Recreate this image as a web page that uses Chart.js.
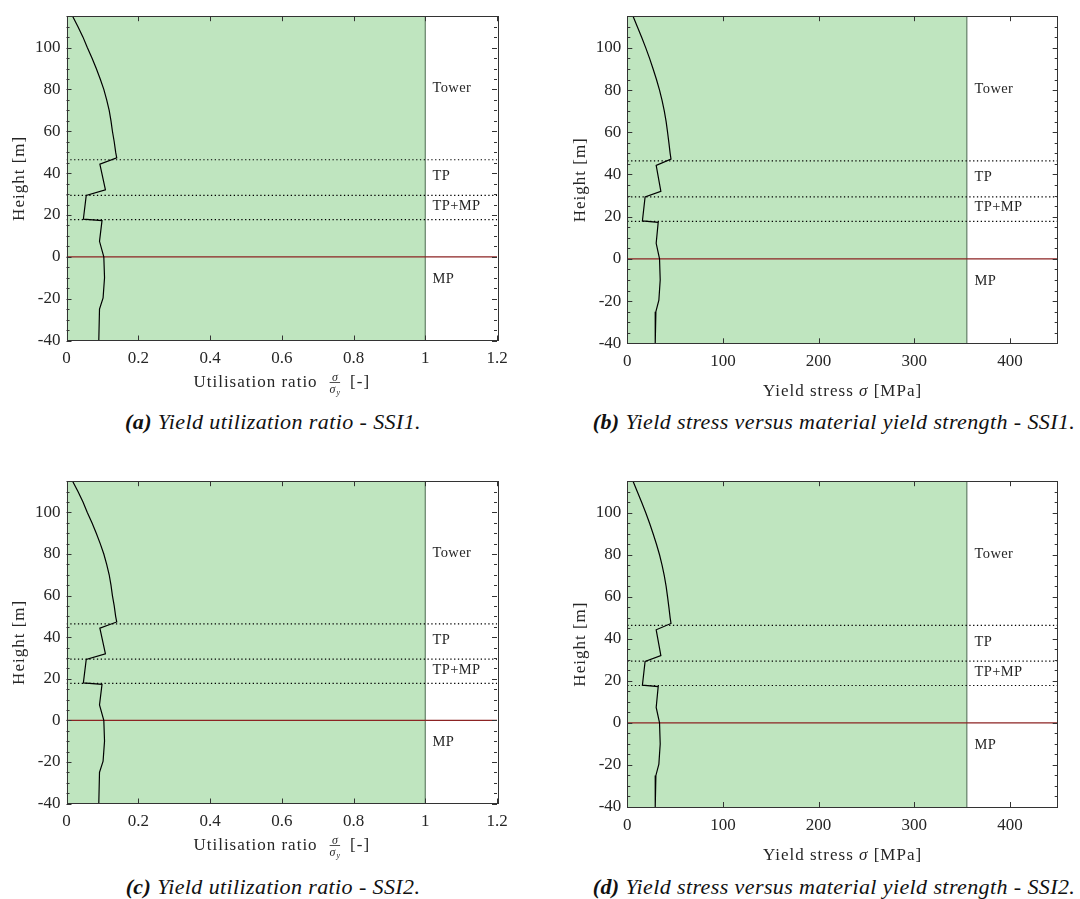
<!DOCTYPE html>
<html>
<head>
<meta charset="utf-8">
<script src="https://cdn.jsdelivr.net/npm/chart.js@4.4.1/dist/chart.umd.min.js"></script>
<style>
  body { margin: 0; background: #fff; width: 1080px; height: 899px; position: relative; overflow: hidden; }
  canvas { position: absolute; }
  .caption {
    position: absolute;
    font-family: 'Liberation Serif', 'Times New Roman', serif;
    font-style: italic;
    font-size: 22px;
    letter-spacing: 0.4px;
    color: #111;
    white-space: nowrap;
    transform: translate(-50%, -50%);
  }
</style>
</head>
<body>
<canvas id="chartA" width="540" height="400" style="left:0;top:0"></canvas>
<canvas id="chartB" width="520" height="400" style="left:560px;top:0"></canvas>
<canvas id="chartC" width="540" height="400" style="left:0;top:465px"></canvas>
<canvas id="chartD" width="520" height="400" style="left:560px;top:465px"></canvas>

<div class="caption" style="left:273px;top:422px"><b>(a)</b> Yield utilization ratio - SSI1.</div>
<div class="caption" style="left:834px;top:422px"><b>(b)</b> Yield stress versus material yield strength - SSI1.</div>
<div class="caption" style="left:273px;top:887px"><b>(c)</b> Yield utilization ratio - SSI2.</div>
<div class="caption" style="left:834px;top:887px"><b>(d)</b> Yield stress versus material yield strength - SSI2.</div>

<script>
// heights along the structure [m]
const heights = [115, 110, 105, 100, 95, 90, 85, 80, 75, 70, 65, 60, 55, 50, 47.3, 44.3, 32.0, 29.3, 18.0, 17.3, 7.4, 0, -10, -19.6, -25, -40];
// utilisation ratio sigma / sigma_y
const ratioSSI1 = [0.017, 0.032, 0.046, 0.058, 0.071, 0.083, 0.094, 0.104, 0.112, 0.119, 0.124, 0.128, 0.133, 0.137, 0.140, 0.093, 0.1085, 0.055, 0.047, 0.099, 0.092, 0.104, 0.106, 0.102, 0.092, 0.090];
const ratioSSI2 = [0.017, 0.032, 0.046, 0.058, 0.071, 0.083, 0.094, 0.104, 0.112, 0.119, 0.124, 0.128, 0.133, 0.137, 0.140, 0.093, 0.1085, 0.055, 0.047, 0.099, 0.092, 0.104, 0.106, 0.102, 0.092, 0.090];
// yield stress [MPa]
const stressSSI1 = [6.0, 10.5, 15.0, 19.3, 23.3, 27.0, 30.5, 33.7, 36.4, 38.7, 40.6, 42.1, 43.5, 44.8, 45.7, 30.2, 35.1, 18.6, 15.8, 32.3, 30.2, 33.7, 34.4, 33.0, 29.9, 29.2];
const stressSSI2 = [6.0, 10.5, 15.0, 19.3, 23.3, 27.0, 30.5, 33.7, 36.4, 38.7, 40.6, 42.1, 43.5, 44.8, 45.7, 30.2, 35.1, 18.6, 15.8, 32.3, 30.2, 33.7, 34.4, 33.0, 29.9, 29.2];

const interfaceHeights = [46.4, 29.4, 17.8];   // tower/TP, TP/TP+MP, TP+MP/MP
const mudline = 0;
const regionLabels = ['Tower', 'TP', 'TP+MP', 'MP'];
const regionLabelHeights = [80.5, 38.5, 24.3, -10.5];

const yMin = -40, yMax = 115;
const yTicks = [-40, -20, 0, 20, 40, 60, 80, 100];
const ratioTicks = [0, 0.2, 0.4, 0.6, 0.8, 1, 1.2];
const stressTicks = [0, 100, 200, 300, 400];
const ratioLimit = 1;
const yieldStrength = 355;

const serif = "'Liberation Serif', 'Times New Roman', serif";
const tickFont = { family: serif, size: 17 };
const textColor = '#262626';

// inward ticks, frame, region labels and axis titles
const decor = {
    id: 'decor',
    afterDatasetsDraw(chart, args, opts) {
        const { ctx, chartArea: a, scales: { x, y } } = chart;
        ctx.save();

        ctx.font = '14.5px ' + serif;
        ctx.fillStyle = textColor;
        ctx.textBaseline = 'middle';
        ctx.letterSpacing = '0.4px';
        regionLabels.forEach((t, i) => {
            ctx.fillText(t, x.getPixelForValue(opts.labelX), y.getPixelForValue(regionLabelHeights[i]));
        });

        ctx.strokeStyle = '#333';
        ctx.lineWidth = 1;
        ctx.beginPath();
        for (let v = yMin; v <= yMax; v += 5) {
            const py = Math.round(y.getPixelForValue(v)) + 0.5;
            const len = yTicks.includes(v) ? 5 : 3;
            ctx.moveTo(a.left, py); ctx.lineTo(a.left + len, py);
            ctx.moveTo(a.right, py); ctx.lineTo(a.right - len, py);
        }
        opts.xTicks.forEach(v => {
            const px = Math.round(x.getPixelForValue(v)) + 0.5;
            ctx.moveTo(px, a.bottom); ctx.lineTo(px, a.bottom - 5);
            ctx.moveTo(px, a.top); ctx.lineTo(px, a.top + 5);
        });
        ctx.stroke();
        ctx.strokeRect(Math.round(a.left) + 0.5, Math.round(a.top) + 0.5,
            Math.round(a.right - a.left), Math.round(a.bottom - a.top));
        ctx.restore();
    },
    afterDraw(chart, args, opts) {
        const { ctx, chartArea: a } = chart;
        const cx = (a.left + a.right) / 2;
        ctx.save();
        ctx.fillStyle = textColor;
        ctx.letterSpacing = '1px';
        ctx.textBaseline = 'alphabetic';

        // y title
        ctx.save();
        ctx.translate(opts.yTitleX, (a.top + a.bottom) / 2);
        ctx.rotate(-Math.PI / 2);
        ctx.font = '17px ' + serif;
        ctx.textAlign = 'center';
        ctx.textBaseline = 'middle';
        ctx.fillText('Height [m]', 0, 0);
        ctx.restore();

        const base = a.bottom + opts.xTitleOffset;
        ctx.textAlign = 'left';
        if (opts.kind === 'ratio') {
            const main = 'Utilisation ratio';
            const tail = '[-]';
            ctx.font = '17px ' + serif;
            const w1 = ctx.measureText(main).width;
            const w3 = ctx.measureText(tail).width;
            ctx.letterSpacing = '0px';
            ctx.font = 'italic 12px ' + serif;
            const wSig = ctx.measureText('σ').width;
            ctx.font = 'italic 8px ' + serif;
            const wSub = ctx.measureText('y').width;
            const wf = wSig + wSub + 1;
            const gap1 = 12, gap2 = 10;
            let px = cx - (w1 + gap1 + wf + gap2 + w3) / 2;
            ctx.letterSpacing = '1px';
            ctx.font = '17px ' + serif;
            ctx.fillText(main, px, base);
            px += w1 + gap1;
            const bar = base - 4;
            ctx.letterSpacing = '0px';
            ctx.font = 'italic 12px ' + serif;
            ctx.fillText('σ', px + (wf - wSig) / 2, bar - 2);
            ctx.fillText('σ', px, bar + 10);
            ctx.font = 'italic 8px ' + serif;
            ctx.fillText('y', px + wSig + 1, bar + 12);
            ctx.fillRect(px, bar - 0.5, wf, 0.8);
            px += wf + gap2;
            ctx.letterSpacing = '1px';
            ctx.font = '17px ' + serif;
            ctx.fillText(tail, px, base);
        } else {
            const p1 = 'Yield stress ', p3 = ' [MPa]';
            ctx.font = '17px ' + serif;
            const w1 = ctx.measureText(p1).width;
            const w3 = ctx.measureText(p3).width;
            ctx.font = 'italic 17px ' + serif;
            const w2 = ctx.measureText('σ').width;
            let px = cx - (w1 + w2 + w3) / 2;
            ctx.font = '17px ' + serif;
            ctx.fillText(p1, px, base);
            px += w1;
            ctx.font = 'italic 17px ' + serif;
            ctx.fillText('σ', px, base);
            px += w2;
            ctx.font = '17px ' + serif;
            ctx.fillText(p3, px, base);
        }
        ctx.restore();
    }
};

function line(points, extra) {
    return Object.assign({
        data: points,
        borderColor: '#000',
        borderWidth: 1.2,
        pointRadius: 0,
        fill: false,
        tension: 0
    }, extra);
}

function makePanel(id, values, kind, plot, yTitleX, xTitleOffset) {
    const canvas = document.getElementById(id);
    const W = canvas.width, H = canvas.height;
    const isRatio = kind === 'ratio';
    const xMax = isRatio ? 1.2 : 450;
    const xTicks = isRatio ? ratioTicks : stressTicks;
    const limit = isRatio ? ratioLimit : yieldStrength;

    const datasets = [
        line(heights.map((h, i) => ({ x: values[i], y: h })), { order: 0 }),
        ...interfaceHeights.map(h => line([{ x: 0, y: h }, { x: xMax, y: h }],
            { borderDash: [1.3, 2.5], order: 1 })),
        line([{ x: 0, y: mudline }, { x: xMax, y: mudline }], { borderColor: '#8c2323', order: 1 }),
        line([{ x: limit, y: yMin }, { x: limit, y: yMax }], { borderColor: '#56735a', borderWidth: 1.1, order: 2 }),
        line([{ x: 0, y: yMax }, { x: limit, y: yMax }],
            { borderWidth: 0, fill: { value: yMin }, backgroundColor: '#bfe5bf', order: 3 })
    ];

    return new Chart(canvas.getContext('2d'), {
        type: 'line',
        data: { datasets },
        options: {
            responsive: false,
            animation: false,
            devicePixelRatio: 1,
            events: [],
            layout: { padding: { left: 0, top: plot.t, right: W - plot.r, bottom: 0 } },
            scales: {
                x: {
                    type: 'linear', min: 0, max: xMax,
                    grid: { display: false, drawTicks: false },
                    border: { display: false },
                    afterBuildTicks: s => { s.ticks = xTicks.map(v => ({ value: v })); },
                    afterFit: s => { s.height = H - plot.b; },
                    ticks: {
                        autoSkip: false, maxRotation: 0, padding: 8,
                        font: tickFont, color: textColor,
                        callback: v => String(v)
                    }
                },
                y: {
                    type: 'linear', min: yMin, max: yMax,
                    grid: { display: false, drawTicks: false },
                    border: { display: false },
                    afterBuildTicks: s => { s.ticks = yTicks.map(v => ({ value: v })); },
                    afterFit: s => { s.width = plot.l; },
                    ticks: {
                        autoSkip: false, padding: 6,
                        font: tickFont, color: textColor,
                        callback: v => String(v)
                    }
                }
            },
            plugins: {
                legend: { display: false },
                tooltip: { enabled: false },
                decor: {
                    kind, xTicks, yTitleX, xTitleOffset,
                    labelX: isRatio ? 1.02 : 363
                }
            }
        },
        plugins: [decor]
    });
}

makePanel('chartA', ratioSSI1, 'ratio', { l: 66.5, r: 497, t: 10, b: 340.5 }, 20, 46);
makePanel('chartB', stressSSI1, 'stress', { l: 67.3, r: 497.7, t: 10.7, b: 343.3 }, 21, 53);
makePanel('chartC', ratioSSI2, 'ratio', { l: 66.5, r: 497, t: 10, b: 338.5 }, 20, 46);
makePanel('chartD', stressSSI2, 'stress', { l: 67.3, r: 497.7, t: 10.5, b: 342 }, 21, 53);
</script>
</body>
</html>
